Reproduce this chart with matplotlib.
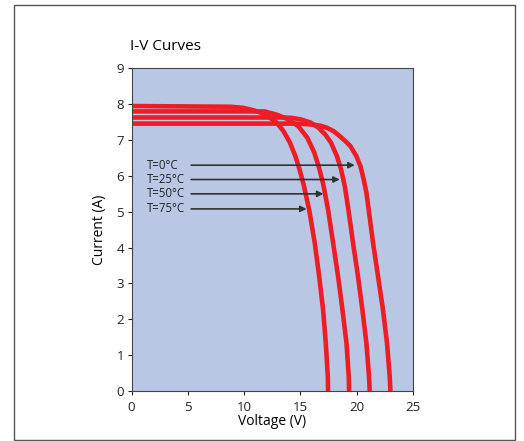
import matplotlib
matplotlib.use('Agg')
import matplotlib.pyplot as plt
from matplotlib.patches import Rectangle

plt.rcParams['font.family'] = ['Open Sans', 'DejaVu Sans']

# I-V points (voltage in V, current in A)
v_0c = [0, 14.5, 15.3, 16.13, 16.8, 17.32, 17.95, 18.5, 19.0, 19.45, 19.98,
        20.34, 20.63, 20.87, 21.07, 21.46, 21.9, 22.34, 22.7, 22.94, 23.0]
i_0c = [7.46, 7.46, 7.45, 7.43, 7.40, 7.35, 7.25, 7.11, 6.97, 6.83, 6.55,
        6.27, 5.90, 5.53, 5.06, 4.13, 3.20, 2.27, 1.33, 0.40, 0.0]

v_25c = [0, 13.3, 14.2, 15.0, 15.9, 16.6, 17.2, 17.72, 18.25, 18.62, 18.95,
         19.27, 19.68, 20.12, 20.51, 20.87, 21.1, 21.16]
i_25c = [7.63, 7.63, 7.62, 7.58, 7.49, 7.35, 7.16, 6.93, 6.55, 6.18, 5.71,
         5.06, 4.13, 3.20, 2.27, 1.33, 0.40, 0.0]

v_50c = [0, 11.8, 12.8, 13.76, 14.81, 15.61, 16.24, 16.66, 17.04, 17.46,
         17.91, 18.35, 18.74, 19.1, 19.3, 19.33]
i_50c = [7.80, 7.80, 7.72, 7.60, 7.39, 7.07, 6.65, 6.23, 5.76, 5.06,
         4.13, 3.20, 2.27, 1.33, 0.40, 0.0]

v_75c = [0, 8.8, 9.9, 10.86, 11.85, 12.88, 13.5, 14.07, 14.56, 14.93, 15.29,
         15.78, 16.28, 16.67, 17.02, 17.26, 17.44, 17.46]
i_75c = [7.95, 7.93, 7.90, 7.83, 7.72, 7.49, 7.25, 6.93, 6.55, 6.18, 5.76,
         5.06, 4.13, 3.20, 2.27, 1.33, 0.40, 0.0]

labels = ['T=0°C', 'T=25°C', 'T=50°C', 'T=75°C']
label_y = [6.3, 5.9, 5.5, 5.08]
arrow_tip_x = [19.83, 18.5, 17.05, 15.55]

fig = plt.figure(figsize=(5.24, 4.41), dpi=100)
fig.patches.append(Rectangle((0.0267, 0.0025), 0.956, 0.986, transform=fig.transFigure,
                             fill=False, edgecolor='#555555', linewidth=1.0))

ax = fig.add_axes([0.251, 0.1134, 0.537, 0.7315])
ax.set_facecolor('#b9c7e5')

red = '#ee1c25'
for v, i in [(v_75c, i_75c), (v_50c, i_50c), (v_25c, i_25c), (v_0c, i_0c)]:
    ax.plot(v, i, color=red, lw=3.3, solid_joinstyle='round', solid_capstyle='butt')

for lab, y, tip in zip(labels, label_y, arrow_tip_x):
    ax.text(1.35, y, lab, fontsize=8.3, va='center', ha='left', color='#222222')
    ax.annotate('', xy=(tip, y), xytext=(5.3, y),
                arrowprops=dict(arrowstyle='-|>', color='#333333', lw=1.2,
                                mutation_scale=9, shrinkA=0, shrinkB=0))

ax.set_xlim(0, 25)
ax.set_ylim(0, 9)
ax.set_xticks(range(0, 26, 5))
ax.set_yticks(range(0, 10))
ax.tick_params(direction='out', length=3, width=0.8, labelsize=9.5, pad=2.5, colors='#222222')
ax.tick_params(axis='x', pad=4)
for s in ax.spines.values():
    s.set_color('#444444')
    s.set_linewidth(0.8)

ax.set_xlabel('Voltage (V)', fontsize=10, labelpad=0)
ax.set_ylabel('Current (A)', fontsize=10, labelpad=7)
fig.text(0.248, 0.895, 'I-V Curves', fontsize=11, ha='left', va='center')

fig.savefig('out.png', dpi=100)
